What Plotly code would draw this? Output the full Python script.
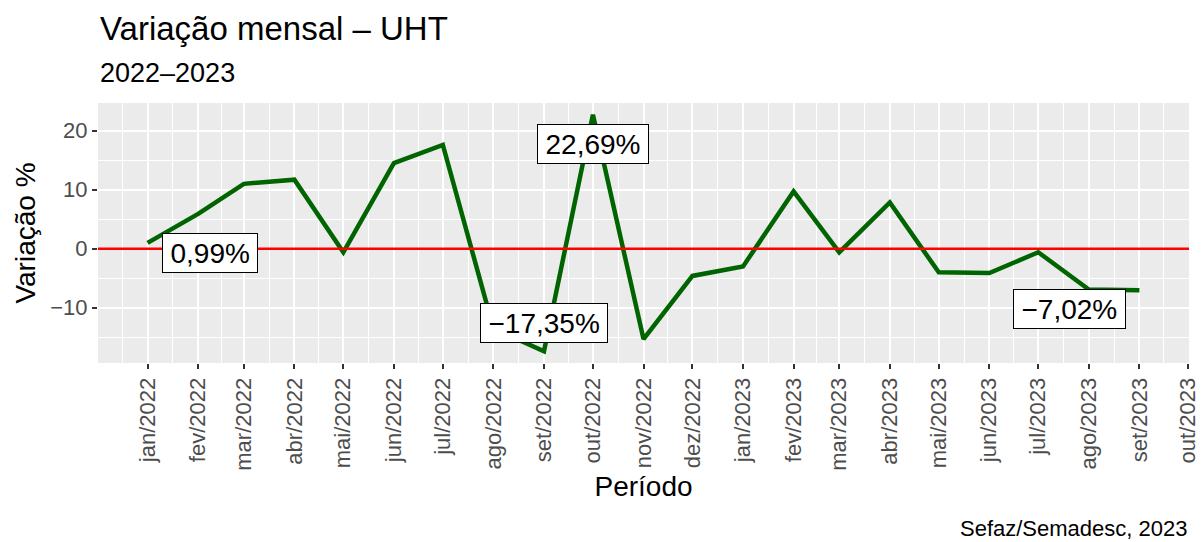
import pandas as pd
import plotly.graph_objects as go

# dados: variação mensal (%) do leite UHT
meses = [
    "2022-01-01", "2022-02-01", "2022-03-01", "2022-04-01", "2022-05-01", "2022-06-01",
    "2022-07-01", "2022-08-01", "2022-09-01", "2022-10-01", "2022-11-01", "2022-12-01",
    "2023-01-01", "2023-02-01", "2023-03-01", "2023-04-01", "2023-05-01", "2023-06-01",
    "2023-07-01", "2023-08-01", "2023-09-01",
]
variacao = [
    0.99, 5.9, 11.0, 11.7, -0.6, 14.5, 17.6, -13.5, -17.35, 22.69, -15.3, -4.6,
    -3.0, 9.7, -0.6, 7.85, -4.0, -4.1, -0.6, -6.9, -7.02,
]

tick_datas = meses + ["2023-10-01"]
tick_textos = [
    "jan/2022", "fev/2022", "mar/2022", "abr/2022", "mai/2022", "jun/2022",
    "jul/2022", "ago/2022", "set/2022", "out/2022", "nov/2022", "dez/2022",
    "jan/2023", "fev/2023", "mar/2023", "abr/2023", "mai/2023", "jun/2023",
    "jul/2023", "ago/2023", "set/2023", "out/2023",
]

TITULO = "Variação mensal – UHT"
SUBTITULO = "2022–2023"
FONTE = "Sefaz/Semadesc, 2023"

FONT = "Liberation Sans, Arial, sans-serif"
VERDE = "#006400"
FUNDO = "#EBEBEB"

datas = pd.to_datetime(meses)
ticks = pd.to_datetime(tick_datas)

# expansão de 5% como no ggplot
span_x = datas.max() - datas.min()
x_range = [datas.min() - span_x * 0.05, datas.max() + span_x * 0.05]
span_y = max(variacao) - min(variacao)
y_range = [min(variacao) - 0.05 * span_y, max(variacao) + 0.05 * span_y]

# grade secundária no meio dos meses
bordas = [pd.Timestamp("2021-12-01")] + list(ticks)
minor_x = [a + (b - a) / 2 for a, b in zip(bordas[:-1], bordas[1:])]


def fmt(v):
    return f"{v:.2f}".replace(".", ",").replace("-", "\u2212") + "%"


def text_width(s, size):
    w = {",": 0.278, "%": 0.889, "\u2212": 0.584}
    return sum(w.get(c, 0.556) for c in s) * size


fig = go.Figure()
fig.add_trace(go.Scatter(
    x=datas, y=variacao, mode="lines",
    line=dict(color=VERDE, width=4.5),
    hoverinfo="skip", showlegend=False,
))

fig.add_shape(type="line", xref="paper", x0=0, x1=1, yref="y", y0=0, y1=0,
              line=dict(color="red", width=2.5), layer="above")

# rótulos: primeiro, máximo, mínimo, último (deslocamentos em dias / pontos)
i_max = variacao.index(max(variacao))
i_min = variacao.index(min(variacao))
rotulos = [(0, 38, -1.7), (i_max, 0, -5.0), (i_min, 0, 4.7), (len(variacao) - 1, -43, -3.1)]
for i, dx, dy in rotulos:
    txt = fmt(variacao[i])
    fig.add_annotation(
        x=datas[i] + pd.Timedelta(days=dx), y=variacao[i] + dy,
        text=txt, showarrow=False,
        font=dict(size=28, color="black", family=FONT),
        bgcolor="white", bordercolor="black", borderwidth=1, borderpad=3,
        width=text_width(txt, 28) + 9, height=32,
    )

fig.add_annotation(text=TITULO, xref="paper", yref="paper", x=0, y=1.285,
                   xanchor="left", yanchor="middle", showarrow=False,
                   font=dict(size=33, color="black", family=FONT))
fig.add_annotation(text=SUBTITULO, xref="paper", yref="paper", x=0, y=1.115,
                   xanchor="left", yanchor="middle", showarrow=False,
                   font=dict(size=27, color="black", family=FONT))
fig.add_annotation(text=FONTE, xref="paper", yref="paper", x=1, y=-0.635,
                   xanchor="right", yanchor="middle", showarrow=False,
                   font=dict(size=22, color="black", family=FONT))

fig.update_layout(
    width=1204, height=542,
    margin=dict(l=98, r=15, t=103, b=179),
    paper_bgcolor="white", plot_bgcolor=FUNDO,
    font=dict(family=FONT, color="black"),
    showlegend=False,
    xaxis=dict(
        type="date", range=x_range,
        tickmode="array", tickvals=ticks, ticktext=tick_textos, tickangle=-90,
        ticks="outside", ticklen=5, tickwidth=2, tickcolor="#333333",
        tickfont=dict(size=22, color="#4D4D4D"),
        showgrid=True, gridcolor="white", gridwidth=2,
        minor=dict(tickmode="array", tickvals=minor_x, showgrid=True,
                   gridcolor="white", gridwidth=1, ticks=""),
        zeroline=False, showline=False, automargin=False,
        title=dict(text="Período", font=dict(size=28), standoff=6),
    ),
    yaxis=dict(
        range=y_range,
        tickmode="array", tickvals=[-10, 0, 10, 20],
        ticks="outside", ticklen=5, tickwidth=2, tickcolor="#333333",
        tickfont=dict(size=22, color="#4D4D4D"),
        showgrid=True, gridcolor="white", gridwidth=2,
        minor=dict(tickmode="array", tickvals=[-15, -5, 5, 15], showgrid=True,
                   gridcolor="white", gridwidth=1, ticks=""),
        zeroline=False, showline=False, automargin=False,
        title=dict(text="Variação %", font=dict(size=28), standoff=6),
    ),
)

# sem a margem padrão do body, a figura ocupa a janela inteira
fig.write_html("out.html", config={"displayModeBar": False},
               post_script="document.body.style.margin='0';")
